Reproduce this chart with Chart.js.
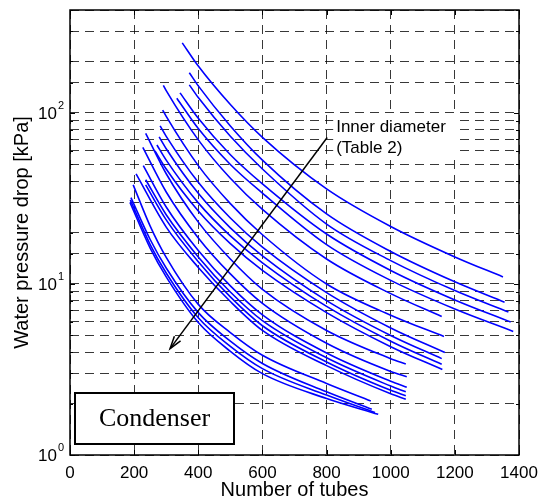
<!DOCTYPE html>
<html>
<head>
<meta charset="utf-8">
<script src="https://cdn.jsdelivr.net/npm/chart.js@4.4.1/dist/chart.umd.min.js"></script>
<style>
  html, body { margin: 0; padding: 0; background: #fff; }
</style>
</head>
<body>
<canvas id="chart" width="548" height="499"></canvas>
<script>
// [number of tubes, water pressure drop in kPa]
const curve01 = [[350,257],[400,188],[500,112],[600,72],[800,36],[1000,21.7],[1200,14.4],[1350,11.0]];
const curve02 = [[372,172],[400,144],[500,84],[600,53],[800,25.7],[1000,15.5],[1200,10.3],[1355,7.83]];
const curve03 = [[372,146],[400,123],[500,73],[600,47],[800,22.4],[1000,13.7],[1200,9.15],[1367,6.85]];
const curve04 = [[343,131],[400,93],[500,57],[600,38.5],[800,19.6],[1000,12.0],[1200,8.07],[1374,5.99]];
const curve05 = [[333,122],[400,81],[500,50],[600,34],[800,17.0],[1000,10.5],[1200,7.14],[1382,5.28]];
const curve06 = [[291,145],[300,135],[400,69.6],[500,41.5],[600,27.3],[800,14],[1000,8.78],[1159,6.45]];
const curve07 = [[289,104],[300,95.4],[400,49.2],[500,29.5],[600,19.4],[800,10],[1000,6.57],[1166,4.93]];
const curve08 = [[281,84],[300,73],[400,39.3],[500,24.3],[600,16.4],[800,8.9],[1000,5.53],[1169,3.97]];
const curve09 = [[278,72.5],[300,61.8],[400,33.9],[500,21.3],[600,14.6],[800,8.0],[1000,5.0],[1159,3.66]];
const curve10 = [[271,65],[300,53],[400,29.8],[500,19.1],[600,13.3],[800,7.4],[1000,4.63],[1159,3.39]];
const curve11 = [[265,60],[300,47],[400,26.7],[500,17.2],[600,12.0],[800,6.8],[1000,4.3],[1161,3.16]];
const curve12 = [[236,76],[300,44.1],[400,23],[500,14.0],[600,9.3],[800,5.35],[1000,3.66],[1047,3.40]];
const curve13 = [[227,62.9],[300,34.5],[400,18.6],[500,11.45],[600,7.7],[800,4.5],[1000,3.08],[1050,2.87]];
const curve14 = [[228.5,49.2],[300,28.2],[400,15.7],[500,9.74],[600,6.6],[800,3.95],[1000,2.70],[1050,2.49]];
const curve15 = [[236,40.7],[300,25.4],[400,14.4],[500,8.97],[600,6.1],[800,3.7],[1000,2.53],[1047,2.34]];
const curve16 = [[236,38],[300,23.7],[400,13.5],[500,8.4],[600,5.7],[800,3.5],[1000,2.39],[1047,2.22]];
const curve17 = [[206,44],[300,21.5],[400,12.5],[500,7.9],[600,5.35],[800,3.33],[1000,2.28],[1047,2.12]];
const curve18 = [[197,38],[250,21.8],[300,14.3],[400,7.6],[500,5.2],[600,3.83],[800,2.62],[938,2.07]];
const curve19 = [[190,32],[250,18.2],[300,12.4],[400,6.8],[500,4.63],[600,3.43],[800,2.34],[941,1.85]];
const curve20 = [[188,31],[250,17.0],[300,11.6],[400,6.35],[500,4.32],[600,3.2],[800,2.24],[951,1.77]];
const curve21 = [[187,30],[250,16.2],[300,11.0],[400,5.95],[500,4.04],[600,2.99],[800,2.14],[961,1.73]];

const curves = [curve01, curve02, curve03, curve04, curve05, curve06, curve07,
                curve08, curve09, curve10, curve11, curve12, curve13, curve14,
                curve15, curve16, curve17, curve18, curve19, curve20, curve21];

const yPowers = [0, 1, 2];
// arrow "Inner diameter", tail and head in data units
const arrowFrom = [802, 71.8];
const arrowTo = [312, 4.19];
const noteAt = [830, 82.8];
const noteLines = ['Inner diameter', '(Table 2)'];

const FONT = '"Liberation Sans", Arial, sans-serif';
Chart.defaults.font.family = FONT;
Chart.defaults.color = '#000';

const datasets = curves.map(function (c) {
    return {
        data: c.map(function (p) { return { x: p[0], y: p[1] }; }),
        borderColor: '#0000ff',
        borderWidth: 1.6,
        pointRadius: 0,
        showLine: true,
        fill: false,
        cubicInterpolationMode: 'monotone',
    };
});

// frame, tick marks, labels and notes drawn on top of the chart
const decorations = {
    id: 'decorations',
    afterDraw(chart) {
        const { ctx, chartArea: a, scales: { x, y } } = chart;
        ctx.save();
        ctx.setLineDash([]);
        ctx.strokeStyle = '#000';
        ctx.fillStyle = '#000';

        // small inner tick marks
        ctx.lineWidth = 1;
        x.ticks.forEach(function (t) {
            const px = Math.round(x.getPixelForValue(t.value)) + 0.5;
            ctx.beginPath();
            ctx.moveTo(px, a.bottom); ctx.lineTo(px, a.bottom - 5);
            ctx.moveTo(px, a.top); ctx.lineTo(px, a.top + 5);
            ctx.stroke();
        });
        y.ticks.forEach(function (t) {
            const py = Math.round(y.getPixelForValue(t.value)) + 0.5;
            const len = t.major ? 5 : 3;
            ctx.beginPath();
            ctx.moveTo(a.left, py); ctx.lineTo(a.left + len, py);
            ctx.moveTo(a.right, py); ctx.lineTo(a.right - len, py);
            ctx.stroke();
        });

        // frame
        ctx.lineWidth = 1.5;
        ctx.strokeRect(a.left, a.top, a.right - a.left, a.bottom - a.top);

        // y tick labels 10^n
        ctx.textBaseline = 'middle';
        yPowers.forEach(function (p) {
            const py = y.getPixelForValue(Math.pow(10, p));
            ctx.font = '17px ' + FONT;
            ctx.textAlign = 'right';
            ctx.fillText('10', a.left - 13, py + 1);
            ctx.font = '11px ' + FONT;
            ctx.textAlign = 'left';
            ctx.fillText(String(p), a.left - 12, py - 7);
        });

        // axis titles
        ctx.font = '20px ' + FONT;
        ctx.textAlign = 'center';
        ctx.fillText('Number of tubes', (a.left + a.right) / 2, 490);
        ctx.save();
        ctx.translate(22, (a.top + a.bottom) / 2);
        ctx.rotate(-Math.PI / 2);
        ctx.fillText('Water pressure drop [kPa]', 0, 0);
        ctx.restore();

        // note with white background
        const nx = x.getPixelForValue(noteAt[0]);
        const ny = y.getPixelForValue(noteAt[1]);
        ctx.fillStyle = '#fff';
        ctx.fillRect(nx - 3, ny - 13, 122, 46);
        ctx.fillStyle = '#000';
        ctx.font = '17px ' + FONT;
        ctx.textAlign = 'left';
        noteLines.forEach(function (s, i) {
            ctx.fillText(s, nx, ny + i * 21);
        });

        // arrow
        const x0 = x.getPixelForValue(arrowFrom[0]), y0 = y.getPixelForValue(arrowFrom[1]);
        const x1 = x.getPixelForValue(arrowTo[0]), y1 = y.getPixelForValue(arrowTo[1]);
        ctx.lineWidth = 1.5;
        ctx.beginPath();
        ctx.moveTo(x0, y0); ctx.lineTo(x1, y1);
        ctx.stroke();
        const ang = Math.atan2(y1 - y0, x1 - x0);
        ctx.beginPath();
        ctx.moveTo(x1 - 13 * Math.cos(ang - 0.3), y1 - 13 * Math.sin(ang - 0.3));
        ctx.lineTo(x1, y1);
        ctx.lineTo(x1 - 13 * Math.cos(ang + 0.3), y1 - 13 * Math.sin(ang + 0.3));
        ctx.stroke();

        // "Condenser" box
        const bx = a.left + 5, by = a.bottom - 62, bw = 159, bh = 51;
        ctx.fillStyle = '#fff';
        ctx.fillRect(bx, by, bw, bh);
        ctx.lineWidth = 2;
        ctx.strokeRect(bx, by, bw, bh);
        ctx.fillStyle = '#000';
        ctx.font = '26px "Liberation Serif", "Times New Roman", serif';
        ctx.textAlign = 'center';
        ctx.fillText('Condenser', bx + bw / 2, by + bh / 2 + 1);

        ctx.restore();
    }
};

const gridStyle = { color: 'rgba(0,0,0,0.78)', lineWidth: 1, drawTicks: false };

new Chart(document.getElementById('chart'), {
    type: 'scatter',
    data: { datasets: datasets },
    options: {
        responsive: false,
        animation: false,
        layout: { padding: { top: 10, right: 29, left: 0, bottom: 0 } },
        plugins: { legend: { display: false }, tooltip: { enabled: false } },
        scales: {
            x: {
                type: 'linear',
                min: 0,
                max: 1400,
                grid: gridStyle,
                border: { display: false, dash: [9, 6] },
                ticks: {
                    stepSize: 200, autoSkip: false, padding: 8, font: { size: 17 }, maxRotation: 0,
                    callback: function (v) { return String(v); },
                },
                afterFit: function (s) { s.height = 44; },
            },
            y: {
                type: 'logarithmic',
                min: 1,
                max: 400,
                grid: gridStyle,
                border: { display: false, dash: [9, 6] },
                ticks: { display: false, autoSkip: false },
                afterFit: function (s) { s.width = 70; },
            },
        },
    },
    plugins: [decorations],
});
</script>
</body>
</html>
